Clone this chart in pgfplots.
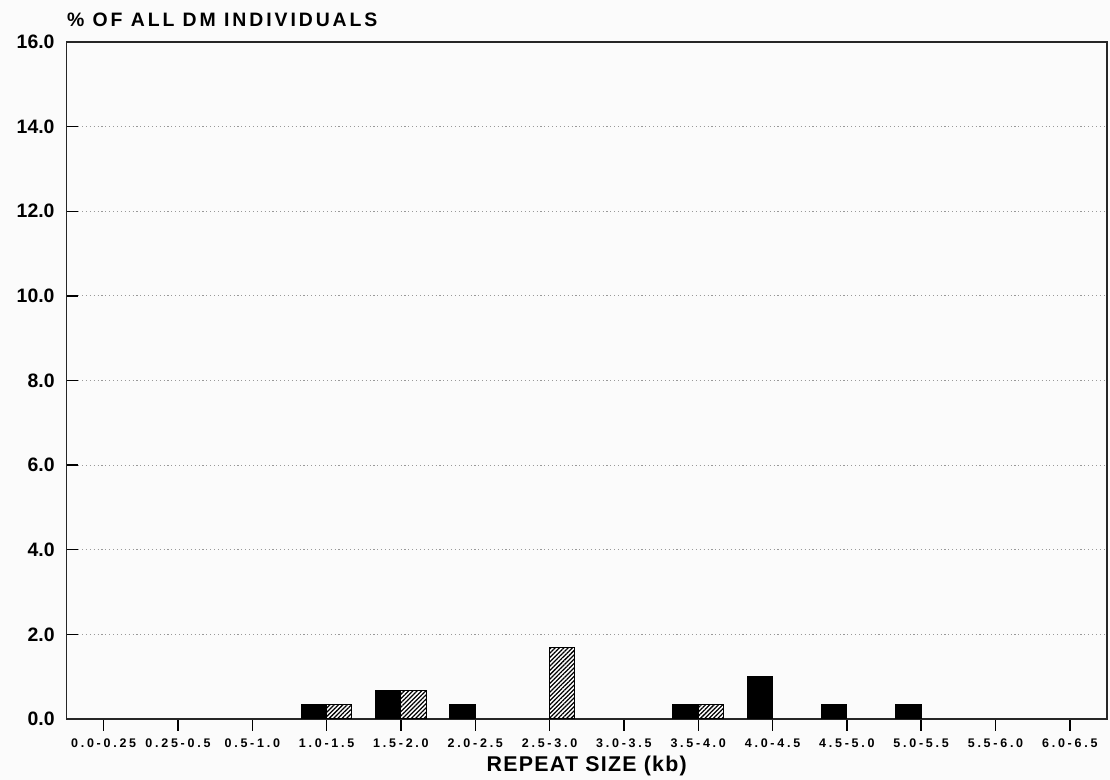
\documentclass[border=0pt]{standalone}
\usepackage{pgfplots}
\pgfplotsset{compat=1.18}
\usetikzlibrary{patterns.meta}
\usepackage{fontspec}
\setmainfont{Liberation Sans}
\newfontfamily\titlefont[LetterSpace=15]{Liberation Sans}
\newfontfamily\xtickfont[LetterSpace=22]{Liberation Sans}
\newfontfamily\xlabfont[LetterSpace=6]{Liberation Sans}
\definecolor{bg}{RGB}{251,251,251}
\begin{document}
\begin{tikzpicture}
\path[use as bounding box, fill=bg] (0,0) rectangle (400pt,281.08pt);
\begin{axis}[
  at={(23.96pt,21.98pt)}, anchor=south west,
  scale only axis, width=374.95pt, height=243.96pt,
  xmin=-0.5, xmax=13.5, ymin=0, ymax=16,
  xtick={0,...,13},
  xticklabels={0.0-0.25,0.25-0.5,0.5-1.0,1.0-1.5,1.5-2.0,2.0-2.5,2.5-3.0,3.0-3.5,3.5-4.0,4.0-4.5,4.5-5.0,5.0-5.5,5.5-6.0,6.0-6.5},
  ytick={0,2,...,16},
  yticklabels={0.0,2.0,4.0,6.0,8.0,10.0,12.0,14.0,16.0},
  tick align=inside, xtick pos=bottom, ytick pos=left,
  major tick length=4.3pt,
  ymajorgrids, grid style={densely dotted, black!40, line width=0.4pt},
  axis line style={black!85, line width=0.5pt},
  tick style={black, line width=0.5pt},
  xticklabel style={font=\xtickfont\bfseries\fontsize{4.5}{5.5}\selectfont, anchor=base, inner sep=0pt, yshift=-5.9pt},
  yticklabel style={font=\bfseries\fontsize{7}{8}\selectfont, anchor=east, inner sep=0pt, xshift=-4.1pt},
  title={\% OF ALL DM INDIVIDUALS},
  title style={at={(0,1)}, anchor=base west, inner sep=0pt, yshift=-0.3pt, font=\titlefont\bfseries\fontsize{7}{8}\selectfont},
  xlabel={REPEAT SIZE (kb)},
  xlabel style={at={(0.5,0)}, anchor=base, inner sep=0pt, yshift=-19.0pt, font=\xlabfont\bfseries\fontsize{7.7}{9}\selectfont},
  ybar, bar width=0.34,
]
\addplot[fill=black, draw=black, line width=0.4pt, bar shift=-0.17] coordinates {(3,0.34) (4,0.68) (5,0.34) (8,0.34) (9,1.01) (10,0.34) (11,0.34)};
\addplot[fill=white, draw=black, line width=0.4pt, bar shift=0.17, postaction={pattern={Lines[angle=45,distance=1.1pt,line width=0.45pt]}}] coordinates {(3,0.34) (4,0.68) (6,1.69) (8,0.34)};
\end{axis}
\end{tikzpicture}
\end{document}
